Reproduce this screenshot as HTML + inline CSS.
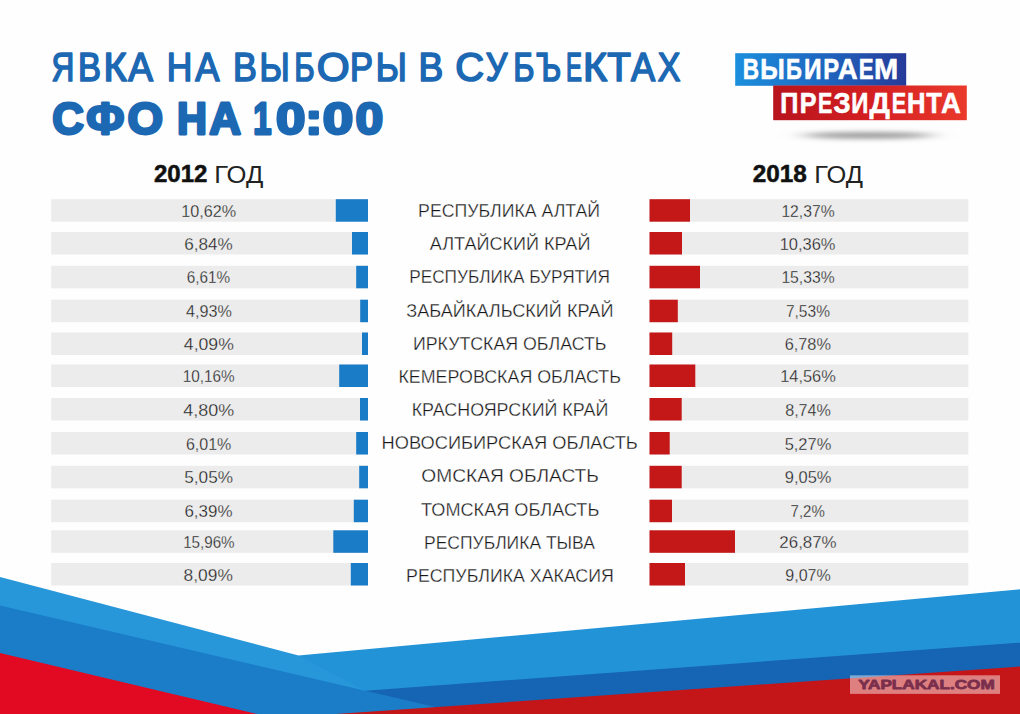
<!DOCTYPE html>
<html lang="ru"><head><meta charset="utf-8"><title>Явка на выборы в субъектах СФО на 10:00</title>
<style>
html,body{margin:0;padding:0;background:#fff;}
body{width:1020px;height:714px;overflow:hidden;font-family:"Liberation Sans",sans-serif;}
svg{display:block;font-family:"Liberation Sans",sans-serif;}
text{white-space:pre;}
</style></head><body>
<svg width="1020" height="714" viewBox="0 0 1020 714">
<rect width="1020" height="714" fill="#fefefe"/>
<g id="ribbon">
<polygon points="298.5,655.5 1020,589.3 1020,714 298.5,714" fill="#2393d7"/>
<polygon points="365.3,690.7 1020,642.7 1020,714 365,714" fill="#1664b4"/>
<polygon points="0,577 298.5,655.5 365.3,690.7 366,714 0,714" fill="#2797da"/>
<polygon points="0,605.6 365.3,690.7 480,717.4 0,718" fill="#1b7dc8"/>
<polygon points="336,714 1020,666.5 1020,714" fill="#c41618"/>
<polygon points="0,653 257,714 0,714" fill="#e20a23"/>
<rect x="850" y="675.3" width="150" height="18.6" fill="#ffffff" fill-opacity="0.45"/>
</g>

<defs>
<linearGradient id="gb" x1="0" y1="0" x2="1" y2="0"><stop offset="0" stop-color="#1b8fdc"/><stop offset="0.55" stop-color="#1f63bd"/><stop offset="1" stop-color="#263a98"/></linearGradient>
<linearGradient id="gr" x1="0" y1="0" x2="1" y2="0"><stop offset="0" stop-color="#b8141c"/><stop offset="0.5" stop-color="#d31f22"/><stop offset="1" stop-color="#ea3a2c"/></linearGradient>
<filter id="blur" x="-40%" y="-400%" width="180%" height="900%"><feGaussianBlur stdDeviation="11 2.4"/></filter>
</defs>
<ellipse cx="868" cy="135.3" rx="66" ry="3.4" fill="#9c9c9c" filter="url(#blur)"/>
<rect x="735.2" y="53.2" width="171" height="32.6" fill="url(#gb)"/>
<rect x="773.2" y="85.5" width="193.6" height="34.7" fill="url(#gr)"/>

<rect x="51.2" y="199.2" width="316.8" height="22.5" fill="#ececec"/>
<rect x="649.5" y="199.2" width="318.8" height="22.5" fill="#ececec"/>
<rect x="335.8" y="199.2" width="32.2" height="22.5" fill="#1a7bc6"/>
<rect x="649.5" y="199.2" width="40.5" height="22.5" fill="#c41718"/>
<rect x="51.2" y="232.0" width="316.8" height="22.5" fill="#ececec"/>
<rect x="649.5" y="232.0" width="318.8" height="22.5" fill="#ececec"/>
<rect x="352" y="232.0" width="16.0" height="22.5" fill="#1a7bc6"/>
<rect x="649.5" y="232.0" width="32.5" height="22.5" fill="#c41718"/>
<rect x="51.2" y="265.8" width="316.8" height="22.5" fill="#ececec"/>
<rect x="649.5" y="265.8" width="318.8" height="22.5" fill="#ececec"/>
<rect x="356.2" y="265.8" width="11.8" height="22.5" fill="#1a7bc6"/>
<rect x="649.5" y="265.8" width="50.5" height="22.5" fill="#c41718"/>
<rect x="51.2" y="299.7" width="316.8" height="22.5" fill="#ececec"/>
<rect x="649.5" y="299.7" width="318.8" height="22.5" fill="#ececec"/>
<rect x="360.2" y="299.7" width="7.8" height="22.5" fill="#1a7bc6"/>
<rect x="649.5" y="299.7" width="28.3" height="22.5" fill="#c41718"/>
<rect x="51.2" y="332.5" width="316.8" height="22.5" fill="#ececec"/>
<rect x="649.5" y="332.5" width="318.8" height="22.5" fill="#ececec"/>
<rect x="362" y="332.5" width="6.0" height="22.5" fill="#1a7bc6"/>
<rect x="649.5" y="332.5" width="22.7" height="22.5" fill="#c41718"/>
<rect x="51.2" y="364.5" width="316.8" height="22.5" fill="#ececec"/>
<rect x="649.5" y="364.5" width="318.8" height="22.5" fill="#ececec"/>
<rect x="339.2" y="364.5" width="28.8" height="22.5" fill="#1a7bc6"/>
<rect x="649.5" y="364.5" width="45.8" height="22.5" fill="#c41718"/>
<rect x="51.2" y="398.0" width="316.8" height="22.5" fill="#ececec"/>
<rect x="649.5" y="398.0" width="318.8" height="22.5" fill="#ececec"/>
<rect x="360" y="398.0" width="8.0" height="22.5" fill="#1a7bc6"/>
<rect x="649.5" y="398.0" width="32.2" height="22.5" fill="#c41718"/>
<rect x="51.2" y="432.0" width="316.8" height="22.5" fill="#ececec"/>
<rect x="649.5" y="432.0" width="318.8" height="22.5" fill="#ececec"/>
<rect x="356.2" y="432.0" width="11.8" height="22.5" fill="#1a7bc6"/>
<rect x="649.5" y="432.0" width="20.2" height="22.5" fill="#c41718"/>
<rect x="51.2" y="465.8" width="316.8" height="22.5" fill="#ececec"/>
<rect x="649.5" y="465.8" width="318.8" height="22.5" fill="#ececec"/>
<rect x="359.2" y="465.8" width="8.8" height="22.5" fill="#1a7bc6"/>
<rect x="649.5" y="465.8" width="32.2" height="22.5" fill="#c41718"/>
<rect x="51.2" y="499.7" width="316.8" height="22.5" fill="#ececec"/>
<rect x="649.5" y="499.7" width="318.8" height="22.5" fill="#ececec"/>
<rect x="353.8" y="499.7" width="14.2" height="22.5" fill="#1a7bc6"/>
<rect x="649.5" y="499.7" width="22.5" height="22.5" fill="#c41718"/>
<rect x="51.2" y="530.3" width="316.8" height="22.5" fill="#ececec"/>
<rect x="649.5" y="530.3" width="318.8" height="22.5" fill="#ececec"/>
<rect x="333.3" y="530.3" width="34.7" height="22.5" fill="#1a7bc6"/>
<rect x="649.5" y="530.3" width="85.5" height="22.5" fill="#c41718"/>
<rect x="51.2" y="563.0" width="316.8" height="22.5" fill="#ececec"/>
<rect x="649.5" y="563.0" width="318.8" height="22.5" fill="#ececec"/>
<rect x="350.8" y="563.0" width="17.2" height="22.5" fill="#1a7bc6"/>
<rect x="649.5" y="563.0" width="35.5" height="22.5" fill="#c41718"/>
<text x="51.48" y="80.95" font-size="39.86" font-weight="400" fill="#1c68b3" textLength="22.85" lengthAdjust="spacingAndGlyphs" stroke="#1c68b3" stroke-width="1.7" stroke-linejoin="round">Я</text>
<text x="77.99" y="80.95" font-size="39.86" font-weight="400" fill="#1c68b3" textLength="22.97" lengthAdjust="spacingAndGlyphs" stroke="#1c68b3" stroke-width="1.7" stroke-linejoin="round">В</text>
<text x="103.45" y="80.95" font-size="39.86" font-weight="400" fill="#1c68b3" textLength="23.30" lengthAdjust="spacingAndGlyphs" stroke="#1c68b3" stroke-width="1.7" stroke-linejoin="round">К</text>
<text x="128.35" y="80.95" font-size="39.86" font-weight="400" fill="#1c68b3" textLength="24.69" lengthAdjust="spacingAndGlyphs" stroke="#1c68b3" stroke-width="1.7" stroke-linejoin="round">А</text>
<text x="166.81" y="80.95" font-size="39.86" font-weight="400" fill="#1c68b3" textLength="25.59" lengthAdjust="spacingAndGlyphs" stroke="#1c68b3" stroke-width="1.7" stroke-linejoin="round">Н</text>
<text x="195.15" y="80.95" font-size="39.86" font-weight="400" fill="#1c68b3" textLength="24.19" lengthAdjust="spacingAndGlyphs" stroke="#1c68b3" stroke-width="1.7" stroke-linejoin="round">А</text>
<text x="232.89" y="80.95" font-size="39.86" font-weight="400" fill="#1c68b3" textLength="23.84" lengthAdjust="spacingAndGlyphs" stroke="#1c68b3" stroke-width="1.7" stroke-linejoin="round">В</text>
<text x="259.62" y="80.95" font-size="39.86" font-weight="400" fill="#1c68b3" textLength="30.20" lengthAdjust="spacingAndGlyphs" stroke="#1c68b3" stroke-width="1.7" stroke-linejoin="round">Ы</text>
<text x="294.16" y="80.95" font-size="39.86" font-weight="400" fill="#1c68b3" textLength="20.43" lengthAdjust="spacingAndGlyphs" stroke="#1c68b3" stroke-width="1.7" stroke-linejoin="round">Б</text>
<text x="316.66" y="80.95" font-size="39.86" font-weight="400" fill="#1c68b3" textLength="32.92" lengthAdjust="spacingAndGlyphs" stroke="#1c68b3" stroke-width="1.7" stroke-linejoin="round">О</text>
<text x="349.99" y="80.95" font-size="39.86" font-weight="400" fill="#1c68b3" textLength="22.97" lengthAdjust="spacingAndGlyphs" stroke="#1c68b3" stroke-width="1.7" stroke-linejoin="round">Р</text>
<text x="375.84" y="80.95" font-size="39.86" font-weight="400" fill="#1c68b3" textLength="31.04" lengthAdjust="spacingAndGlyphs" stroke="#1c68b3" stroke-width="1.7" stroke-linejoin="round">Ы</text>
<text x="418.39" y="80.95" font-size="39.86" font-weight="400" fill="#1c68b3" textLength="24.70" lengthAdjust="spacingAndGlyphs" stroke="#1c68b3" stroke-width="1.7" stroke-linejoin="round">В</text>
<text x="455.15" y="80.95" font-size="39.86" font-weight="400" fill="#1c68b3" textLength="28.89" lengthAdjust="spacingAndGlyphs" stroke="#1c68b3" stroke-width="1.7" stroke-linejoin="round">С</text>
<text x="485.87" y="80.95" font-size="39.86" font-weight="400" fill="#1c68b3" textLength="21.58" lengthAdjust="spacingAndGlyphs" stroke="#1c68b3" stroke-width="1.7" stroke-linejoin="round">У</text>
<text x="513.35" y="80.95" font-size="39.86" font-weight="400" fill="#1c68b3" textLength="21.30" lengthAdjust="spacingAndGlyphs" stroke="#1c68b3" stroke-width="1.7" stroke-linejoin="round">Б</text>
<text x="536.32" y="80.95" font-size="39.86" font-weight="400" fill="#1c68b3" textLength="25.06" lengthAdjust="spacingAndGlyphs" stroke="#1c68b3" stroke-width="1.7" stroke-linejoin="round">Ъ</text>
<text x="565.93" y="80.95" font-size="39.86" font-weight="400" fill="#1c68b3" textLength="16.01" lengthAdjust="spacingAndGlyphs" stroke="#1c68b3" stroke-width="1.7" stroke-linejoin="round">Е</text>
<text x="582.94" y="80.95" font-size="39.86" font-weight="400" fill="#1c68b3" textLength="24.12" lengthAdjust="spacingAndGlyphs" stroke="#1c68b3" stroke-width="1.7" stroke-linejoin="round">К</text>
<text x="607.17" y="80.95" font-size="39.86" font-weight="400" fill="#1c68b3" textLength="23.68" lengthAdjust="spacingAndGlyphs" stroke="#1c68b3" stroke-width="1.7" stroke-linejoin="round">Т</text>
<text x="631.05" y="80.95" font-size="39.86" font-weight="400" fill="#1c68b3" textLength="24.09" lengthAdjust="spacingAndGlyphs" stroke="#1c68b3" stroke-width="1.7" stroke-linejoin="round">А</text>
<text x="657.67" y="80.95" font-size="39.86" font-weight="400" fill="#1c68b3" textLength="22.66" lengthAdjust="spacingAndGlyphs" stroke="#1c68b3" stroke-width="1.7" stroke-linejoin="round">Х</text>
<text x="52.25" y="134.40" font-size="45.29" font-weight="700" fill="#1c68b3" textLength="31.62" lengthAdjust="spacingAndGlyphs" stroke="#1c68b3" stroke-width="2.8" stroke-linejoin="round">С</text>
<text x="86.16" y="134.40" font-size="45.29" font-weight="700" fill="#1c68b3" textLength="38.14" lengthAdjust="spacingAndGlyphs" stroke="#1c68b3" stroke-width="2.8" stroke-linejoin="round">Ф</text>
<text x="127.57" y="134.40" font-size="45.29" font-weight="700" fill="#1c68b3" textLength="35.56" lengthAdjust="spacingAndGlyphs" stroke="#1c68b3" stroke-width="2.8" stroke-linejoin="round">О</text>
<text x="176.91" y="134.40" font-size="45.29" font-weight="700" fill="#1c68b3" textLength="29.97" lengthAdjust="spacingAndGlyphs" stroke="#1c68b3" stroke-width="2.8" stroke-linejoin="round">Н</text>
<text x="209.22" y="134.40" font-size="45.29" font-weight="700" fill="#1c68b3" textLength="31.75" lengthAdjust="spacingAndGlyphs" stroke="#1c68b3" stroke-width="2.8" stroke-linejoin="round">А</text>
<text x="253.23" y="134.40" font-size="45.29" font-weight="700" fill="#1c68b3" textLength="18.22" lengthAdjust="spacingAndGlyphs" stroke="#1c68b3" stroke-width="2.8" stroke-linejoin="round">1</text>
<text x="276.01" y="134.40" font-size="45.29" font-weight="700" fill="#1c68b3" textLength="29.40" lengthAdjust="spacingAndGlyphs" stroke="#1c68b3" stroke-width="2.8" stroke-linejoin="round">0</text>
<text x="305.18" y="134.40" font-size="45.29" font-weight="700" fill="#1c68b3" textLength="17.09" lengthAdjust="spacingAndGlyphs" stroke="#1c68b3" stroke-width="2.8" stroke-linejoin="round">:</text>
<text x="322.85" y="134.40" font-size="45.29" font-weight="700" fill="#1c68b3" textLength="30.53" lengthAdjust="spacingAndGlyphs" stroke="#1c68b3" stroke-width="2.8" stroke-linejoin="round">0</text>
<text x="355.41" y="134.40" font-size="45.29" font-weight="700" fill="#1c68b3" textLength="27.69" lengthAdjust="spacingAndGlyphs" stroke="#1c68b3" stroke-width="2.8" stroke-linejoin="round">0</text>
<text x="153.93" y="182.25" font-size="23.14" font-weight="700" fill="#111" textLength="53.49" lengthAdjust="spacingAndGlyphs" stroke="#111" stroke-width="0.5" stroke-linejoin="round">2012</text>
<text x="214.15" y="182.50" font-size="24.20" font-weight="400" fill="#222" textLength="49.09" lengthAdjust="spacingAndGlyphs" >ГОД</text>
<text x="752.72" y="182.25" font-size="23.14" font-weight="700" fill="#111" textLength="54.06" lengthAdjust="spacingAndGlyphs" stroke="#111" stroke-width="0.5" stroke-linejoin="round">2018</text>
<text x="814.27" y="182.50" font-size="24.20" font-weight="400" fill="#222" textLength="48.77" lengthAdjust="spacingAndGlyphs" >ГОД</text>
<text x="742.65" y="79.40" font-size="29.14" font-weight="700" fill="#fff" textLength="16.31" lengthAdjust="spacingAndGlyphs" stroke="#fff" stroke-width="0.6" stroke-linejoin="round">В</text>
<text x="760.20" y="79.40" font-size="29.14" font-weight="700" fill="#fff" textLength="24.48" lengthAdjust="spacingAndGlyphs" stroke="#fff" stroke-width="0.6" stroke-linejoin="round">Ы</text>
<text x="785.98" y="79.40" font-size="29.14" font-weight="700" fill="#fff" textLength="15.86" lengthAdjust="spacingAndGlyphs" stroke="#fff" stroke-width="0.6" stroke-linejoin="round">Б</text>
<text x="803.93" y="79.40" font-size="29.14" font-weight="700" fill="#fff" textLength="17.61" lengthAdjust="spacingAndGlyphs" stroke="#fff" stroke-width="0.6" stroke-linejoin="round">И</text>
<text x="823.17" y="79.40" font-size="29.14" font-weight="700" fill="#fff" textLength="15.87" lengthAdjust="spacingAndGlyphs" stroke="#fff" stroke-width="0.6" stroke-linejoin="round">Р</text>
<text x="837.65" y="79.40" font-size="29.14" font-weight="700" fill="#fff" textLength="19.97" lengthAdjust="spacingAndGlyphs" stroke="#fff" stroke-width="0.6" stroke-linejoin="round">А</text>
<text x="858.86" y="79.40" font-size="29.14" font-weight="700" fill="#fff" textLength="14.86" lengthAdjust="spacingAndGlyphs" stroke="#fff" stroke-width="0.6" stroke-linejoin="round">Е</text>
<text x="873.96" y="79.40" font-size="29.14" font-weight="700" fill="#fff" textLength="24.17" lengthAdjust="spacingAndGlyphs" stroke="#fff" stroke-width="0.6" stroke-linejoin="round">М</text>
<text x="780.19" y="113.40" font-size="28.57" font-weight="700" fill="#fff" textLength="18.09" lengthAdjust="spacingAndGlyphs" stroke="#fff" stroke-width="0.6" stroke-linejoin="round">П</text>
<text x="799.79" y="113.40" font-size="28.57" font-weight="700" fill="#fff" textLength="16.79" lengthAdjust="spacingAndGlyphs" stroke="#fff" stroke-width="0.6" stroke-linejoin="round">Р</text>
<text x="818.12" y="113.40" font-size="28.57" font-weight="700" fill="#fff" textLength="14.28" lengthAdjust="spacingAndGlyphs" stroke="#fff" stroke-width="0.6" stroke-linejoin="round">Е</text>
<text x="833.55" y="113.40" font-size="28.57" font-weight="700" fill="#fff" textLength="17.15" lengthAdjust="spacingAndGlyphs" stroke="#fff" stroke-width="0.6" stroke-linejoin="round">З</text>
<text x="851.37" y="113.40" font-size="28.57" font-weight="700" fill="#fff" textLength="17.13" lengthAdjust="spacingAndGlyphs" stroke="#fff" stroke-width="0.6" stroke-linejoin="round">И</text>
<text x="869.40" y="113.40" font-size="28.57" font-weight="700" fill="#fff" textLength="20.35" lengthAdjust="spacingAndGlyphs" stroke="#fff" stroke-width="0.6" stroke-linejoin="round">Д</text>
<text x="891.81" y="113.40" font-size="28.57" font-weight="700" fill="#fff" textLength="14.39" lengthAdjust="spacingAndGlyphs" stroke="#fff" stroke-width="0.6" stroke-linejoin="round">Е</text>
<text x="906.96" y="113.40" font-size="28.57" font-weight="700" fill="#fff" textLength="18.54" lengthAdjust="spacingAndGlyphs" stroke="#fff" stroke-width="0.6" stroke-linejoin="round">Н</text>
<text x="926.34" y="113.40" font-size="28.57" font-weight="700" fill="#fff" textLength="15.58" lengthAdjust="spacingAndGlyphs" stroke="#fff" stroke-width="0.6" stroke-linejoin="round">Т</text>
<text x="940.95" y="113.40" font-size="28.57" font-weight="700" fill="#fff" textLength="19.86" lengthAdjust="spacingAndGlyphs" stroke="#fff" stroke-width="0.6" stroke-linejoin="round">А</text>
<text x="858.23" y="689.40" font-size="13.43" font-weight="700" fill="#7a2f4c" textLength="136.45" lengthAdjust="spacingAndGlyphs" stroke="#7a2f4c" stroke-width="0.8" stroke-linejoin="round">YAPLAKAL.COM</text>
<text x="418.08" y="217.10" font-size="17.68" font-weight="400" fill="#161616" textLength="182.01" lengthAdjust="spacingAndGlyphs" stroke="#fefefe" stroke-width="0.3">РЕСПУБЛИКА АЛТАЙ</text>
<text x="429.70" y="250.27" font-size="17.68" font-weight="400" fill="#161616" textLength="160.72" lengthAdjust="spacingAndGlyphs" stroke="#fefefe" stroke-width="0.3">АЛТАЙСКИЙ КРАЙ</text>
<text x="409.22" y="283.44" font-size="17.68" font-weight="400" fill="#161616" textLength="200.72" lengthAdjust="spacingAndGlyphs" stroke="#fefefe" stroke-width="0.3">РЕСПУБЛИКА БУРЯТИЯ</text>
<text x="406.26" y="316.61" font-size="17.68" font-weight="400" fill="#161616" textLength="207.17" lengthAdjust="spacingAndGlyphs" stroke="#fefefe" stroke-width="0.3">ЗАБАЙКАЛЬСКИЙ КРАЙ</text>
<text x="412.98" y="349.78" font-size="17.68" font-weight="400" fill="#161616" textLength="193.44" lengthAdjust="spacingAndGlyphs" stroke="#fefefe" stroke-width="0.3">ИРКУТСКАЯ ОБЛАСТЬ</text>
<text x="398.47" y="382.95" font-size="17.68" font-weight="400" fill="#161616" textLength="222.45" lengthAdjust="spacingAndGlyphs" stroke="#fefefe" stroke-width="0.3">КЕМЕРОВСКАЯ ОБЛАСТЬ</text>
<text x="411.67" y="416.12" font-size="17.68" font-weight="400" fill="#161616" textLength="196.64" lengthAdjust="spacingAndGlyphs" stroke="#fefefe" stroke-width="0.3">КРАСНОЯРСКИЙ КРАЙ</text>
<text x="381.64" y="449.29" font-size="17.68" font-weight="400" fill="#161616" textLength="256.20" lengthAdjust="spacingAndGlyphs" stroke="#fefefe" stroke-width="0.3">НОВОСИБИРСКАЯ ОБЛАСТЬ</text>
<text x="421.33" y="482.46" font-size="17.68" font-weight="400" fill="#161616" textLength="177.55" lengthAdjust="spacingAndGlyphs" stroke="#fefefe" stroke-width="0.3">ОМСКАЯ ОБЛАСТЬ</text>
<text x="421.14" y="515.63" font-size="17.68" font-weight="400" fill="#161616" textLength="178.20" lengthAdjust="spacingAndGlyphs" stroke="#fefefe" stroke-width="0.3">ТОМСКАЯ ОБЛАСТЬ</text>
<text x="424.00" y="548.80" font-size="17.68" font-weight="400" fill="#161616" textLength="170.85" lengthAdjust="spacingAndGlyphs" stroke="#fefefe" stroke-width="0.3">РЕСПУБЛИКА ТЫВА</text>
<text x="406.08" y="581.97" font-size="17.68" font-weight="400" fill="#161616" textLength="207.70" lengthAdjust="spacingAndGlyphs" stroke="#fefefe" stroke-width="0.3">РЕСПУБЛИКА ХАКАСИЯ</text>
<text x="181.37" y="216.85" font-size="17.14" font-weight="400" fill="#161616" textLength="54.91" lengthAdjust="spacingAndGlyphs" stroke="#ececec" stroke-width="0.3">10,62%</text>
<text x="184.14" y="249.65" font-size="17.14" font-weight="400" fill="#161616" textLength="48.56" lengthAdjust="spacingAndGlyphs" stroke="#ececec" stroke-width="0.3">6,84%</text>
<text x="186.73" y="283.45" font-size="17.14" font-weight="400" fill="#161616" textLength="43.41" lengthAdjust="spacingAndGlyphs" stroke="#ececec" stroke-width="0.3">6,61%</text>
<text x="185.98" y="317.35" font-size="17.14" font-weight="400" fill="#161616" textLength="45.79" lengthAdjust="spacingAndGlyphs" stroke="#ececec" stroke-width="0.3">4,93%</text>
<text x="183.85" y="350.15" font-size="17.14" font-weight="400" fill="#161616" textLength="49.97" lengthAdjust="spacingAndGlyphs" stroke="#ececec" stroke-width="0.3">4,09%</text>
<text x="182.63" y="382.15" font-size="17.14" font-weight="400" fill="#161616" textLength="52.02" lengthAdjust="spacingAndGlyphs" stroke="#ececec" stroke-width="0.3">10,16%</text>
<text x="183.34" y="415.65" font-size="17.14" font-weight="400" fill="#161616" textLength="50.88" lengthAdjust="spacingAndGlyphs" stroke="#ececec" stroke-width="0.3">4,80%</text>
<text x="185.90" y="449.65" font-size="17.14" font-weight="400" fill="#161616" textLength="45.37" lengthAdjust="spacingAndGlyphs" stroke="#ececec" stroke-width="0.3">6,01%</text>
<text x="184.31" y="483.45" font-size="17.14" font-weight="400" fill="#161616" textLength="48.69" lengthAdjust="spacingAndGlyphs" stroke="#ececec" stroke-width="0.3">5,05%</text>
<text x="184.45" y="517.35" font-size="17.14" font-weight="400" fill="#161616" textLength="48.04" lengthAdjust="spacingAndGlyphs" stroke="#ececec" stroke-width="0.3">6,39%</text>
<text x="183.14" y="547.95" font-size="17.14" font-weight="400" fill="#161616" textLength="51.51" lengthAdjust="spacingAndGlyphs" stroke="#ececec" stroke-width="0.3">15,96%</text>
<text x="183.61" y="580.65" font-size="17.14" font-weight="400" fill="#161616" textLength="49.20" lengthAdjust="spacingAndGlyphs" stroke="#ececec" stroke-width="0.3">8,09%</text>
<text x="781.40" y="216.85" font-size="17.14" font-weight="400" fill="#161616" textLength="53.26" lengthAdjust="spacingAndGlyphs" stroke="#ececec" stroke-width="0.3">12,37%</text>
<text x="779.65" y="249.65" font-size="17.14" font-weight="400" fill="#161616" textLength="55.83" lengthAdjust="spacingAndGlyphs" stroke="#ececec" stroke-width="0.3">10,36%</text>
<text x="781.40" y="283.45" font-size="17.14" font-weight="400" fill="#161616" textLength="53.26" lengthAdjust="spacingAndGlyphs" stroke="#ececec" stroke-width="0.3">15,33%</text>
<text x="785.92" y="317.35" font-size="17.14" font-weight="400" fill="#161616" textLength="44.03" lengthAdjust="spacingAndGlyphs" stroke="#ececec" stroke-width="0.3">7,53%</text>
<text x="784.68" y="350.15" font-size="17.14" font-weight="400" fill="#161616" textLength="46.29" lengthAdjust="spacingAndGlyphs" stroke="#ececec" stroke-width="0.3">6,78%</text>
<text x="780.15" y="382.15" font-size="17.14" font-weight="400" fill="#161616" textLength="55.63" lengthAdjust="spacingAndGlyphs" stroke="#ececec" stroke-width="0.3">14,56%</text>
<text x="785.15" y="415.65" font-size="17.14" font-weight="400" fill="#161616" textLength="45.82" lengthAdjust="spacingAndGlyphs" stroke="#ececec" stroke-width="0.3">8,74%</text>
<text x="784.64" y="449.65" font-size="17.14" font-weight="400" fill="#161616" textLength="46.64" lengthAdjust="spacingAndGlyphs" stroke="#ececec" stroke-width="0.3">5,27%</text>
<text x="784.84" y="483.45" font-size="17.14" font-weight="400" fill="#161616" textLength="46.54" lengthAdjust="spacingAndGlyphs" stroke="#ececec" stroke-width="0.3">9,05%</text>
<text x="790.55" y="517.35" font-size="17.14" font-weight="400" fill="#161616" textLength="34.29" lengthAdjust="spacingAndGlyphs" stroke="#ececec" stroke-width="0.3">7,2%</text>
<text x="779.36" y="547.95" font-size="17.14" font-weight="400" fill="#161616" textLength="57.24" lengthAdjust="spacingAndGlyphs" stroke="#ececec" stroke-width="0.3">26,87%</text>
<text x="785.26" y="580.65" font-size="17.14" font-weight="400" fill="#161616" textLength="45.51" lengthAdjust="spacingAndGlyphs" stroke="#ececec" stroke-width="0.3">9,07%</text>
</svg>
</body></html>
